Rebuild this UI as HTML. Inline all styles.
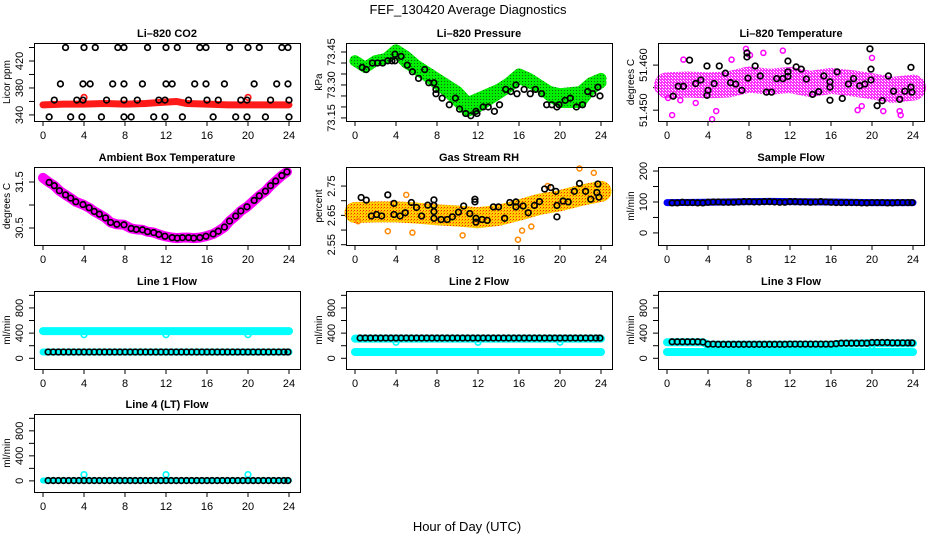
<!DOCTYPE html>
<html><head><meta charset="utf-8"><title>FEF_130420 Average Diagnostics</title>
<style>
html,body{margin:0;padding:0;background:#fff;}
svg{display:block;font-family:"Liberation Sans",Arial,sans-serif;}
</style></head>
<body>
<svg id="chart" width="936" height="540" viewBox="0 0 936 540">
<defs>
<pattern id="gdots" width="3" height="3" patternUnits="userSpaceOnUse"><rect width="3" height="3" fill="#00ee00"/><rect width="1" height="1" fill="#116611"/></pattern>
<pattern id="ydots" width="3" height="3" patternUnits="userSpaceOnUse"><rect width="3" height="3" fill="#ffd000"/><rect width="1" height="1" fill="#ff2200"/><rect x="2" y="1" width="1" height="1" fill="#ff8800"/></pattern>
<pattern id="mdots" width="3" height="3" patternUnits="userSpaceOnUse"><rect width="3" height="3" fill="#ff00ff"/><rect width="1" height="1" fill="#ffffff"/><rect x="2" y="2" width="1" height="1" fill="#ffffff"/></pattern>
</defs>
<text x="468" y="14" text-anchor="middle" font-size="13">FEF_130420  Average Diagnostics</text>
<text x="467" y="531" text-anchor="middle" font-size="13">Hour of Day (UTC)</text>
</svg>
<script>
// ---------- data ----------
const xTicks=[0,4,8,12,16,20,24];
// CO2
const co2BandHours=[0,2,4,6,8,10,11,12,13,14,16,18,20,22,24];
const co2BandValues=[355,356,356,357,356,357,358,359,360,357,356,355,355,355,355];
const co2CircleHours=[2.2,4.0,5.1,7.3,7.9,10.2,12.0,13.1,15.3,15.9,18.2,20.0,21.1,23.3,23.9, 1.7,3.9,4.6,6.8,7.9,9.7,12.0,12.6,14.8,15.9,17.7,20.6,22.8,23.9, 1.1,3.3,3.9,6.2,7.9,9.2,11.3,11.9,14.2,16.0,17.1,19.3,19.9,22.2,24.0, 0.6,2.7,3.8,5.7,7.9,8.6,10.8,11.9,13.6,16.6,18.8,19.9,21.7,24.0];
const co2CircleValues=[440,440,440,440,440,440,440,440,440,440,440,440,440,440,440, 386,386,386,386,386,386,386,386,386,386,386,386,386,386, 362,362,362,362,362,362,362,362,362,362,362,362,362,362,362, 337,337,337,337,337,337,337,337,337,337,337,337,337,337];
const co2RedHours=[4.0,20.0];
const co2RedValues=[366,366];
// Pressure
const presUpperHours=[0,1,2,3,4,5,6,8,10,11,12,14,15,16,17,18,19,20,22,23,24];
const presUpperValues=[73.41,73.38,73.41,73.42,73.46,73.43,73.39,73.33,73.27,73.22,73.24,73.28,73.31,73.35,73.33,73.30,73.27,73.26,73.27,73.31,73.33];
const presLowerHours=[0,1,2,3,4,5,7,9,11,12,13,15,16,17,18,19,20,22,23,24];
const presLowerValues=[73.41,73.38,73.41,73.42,73.45,73.40,73.34,73.27,73.18,73.20,73.23,73.29,73.33,73.31,73.29,73.25,73.22,73.22,73.28,73.31];
const presCircleHours=[0.7,1.1,1.7,2.2,2.7,3.2,3.6,3.9,3.9,4.5,5.1,5.6,6.2,6.8,7.2,7.7,7.9,7.9,8.5,9.2,9.8,10.2,10.8,11.3,11.8,11.9,12.5,13.0,13.6,14.1,14.7,15.2,15.7,15.8,16.5,17.1,17.6,18.2,18.7,19.2,19.7,19.9,20.5,21.0,21.6,22.2,22.7,23.2,23.7,23.9];
const presCircleValues=[73.38,73.37,73.40,73.40,73.40,73.41,73.41,73.44,73.41,73.43,73.39,73.36,73.33,73.37,73.31,73.31,73.28,73.26,73.24,73.21,73.24,73.19,73.17,73.16,73.18,73.17,73.20,73.20,73.18,73.21,73.28,73.27,73.30,73.26,73.28,73.26,73.28,73.26,73.21,73.21,73.20,73.21,73.23,73.24,73.20,73.21,73.27,73.26,73.29,73.25];
// Li-820 temperature
const tempBandHours=[0,2,4,6,8,10,12,14,16,18,20,22,24];
const tempBandValues=[51.4555,51.4557,51.4555,51.4557,51.4568,51.4563,51.4567,51.4558,51.4565,51.4560,51.4553,51.4545,51.4550];
const tempOutHours=[0.5,4.4,4.8,7.7,9.4,11.3,18.6,19.0,20.0,21.1,22.7,22.8,0.1,1.3,2.8,1.6,6.3,8.1];
const tempOutValues=[51.4489,51.4480,51.4498,51.4636,51.4627,51.4632,51.4500,51.4509,51.4616,51.4498,51.4498,51.4489,51.4527,51.4522,51.4516,51.4612,51.4612,51.4622];
const tempCircleHours=[0.6,1.1,1.6,2.2,2.8,3.3,3.9,3.9,4.0,4.6,5.1,5.7,6.2,6.7,7.3,7.8,7.8,7.9,8.6,9.1,9.7,10.2,10.7,11.3,11.8,11.8,11.8,12.6,13.1,13.6,14.2,14.8,15.3,15.9,15.9,15.9,16.6,17.1,17.7,18.2,18.8,19.3,19.8,19.9,19.9,20.5,21.0,21.6,22.1,22.7,23.2,23.8,23.8,23.9];
const tempCircleValues=[51.4531,51.4553,51.4553,51.4611,51.4559,51.4567,51.4598,51.4533,51.4544,51.4559,51.4598,51.4582,51.4561,51.4558,51.4544,51.4618,51.4627,51.4571,51.4598,51.4576,51.4540,51.4540,51.4570,51.4570,51.4609,51.4585,51.4575,51.4596,51.4591,51.4569,51.4535,51.4541,51.4576,51.4563,51.4522,51.4551,51.4585,51.4526,51.4558,51.4570,51.4554,51.4558,51.4636,51.4591,51.4567,51.4510,51.4521,51.4576,51.4542,51.4524,51.4542,51.4595,51.4551,51.4540];
// Ambient box temperature
const ambHours=[0.0,0.6,1.1,1.6,2.2,2.7,3.2,3.9,4.5,5.0,5.5,6.1,6.6,7.2,7.9,8.6,9.1,9.7,10.2,10.8,11.3,11.9,12.6,13.1,13.6,14.2,14.7,15.3,15.9,16.6,17.1,17.7,18.2,18.8,19.3,19.9,20.6,21.1,21.7,22.2,22.7,23.3,23.8];
const ambValues=[31.59,31.49,31.42,31.31,31.22,31.15,31.07,31.01,30.94,30.86,30.80,30.72,30.62,30.58,30.57,30.49,30.47,30.46,30.42,30.40,30.36,30.32,30.29,30.28,30.29,30.29,30.28,30.29,30.32,30.37,30.43,30.52,30.65,30.76,30.87,30.96,31.10,31.20,31.30,31.42,31.52,31.64,31.72];
// Gas stream RH
const rhBandHours=[0,2,4,6,8,10,12,14,16,18,20,22,24];
const rhBandValues=[2.660,2.662,2.662,2.658,2.652,2.648,2.642,2.650,2.668,2.688,2.700,2.718,2.732];
const rhOutHours=[3.2,5.6,10.5,15.9,16.3,17.2,21.9,23.3,0.3,5.0,18.8];
const rhOutValues=[2.596,2.591,2.582,2.567,2.598,2.612,2.810,2.795,2.630,2.720,2.750];
const rhCircleHours=[0.6,1.1,1.6,2.1,2.6,3.2,3.8,3.8,4.4,4.9,5.5,6.0,6.5,7.1,7.7,7.7,7.7,7.7,8.4,9.0,9.5,10.1,10.6,11.2,11.7,11.7,11.8,11.8,12.4,12.9,13.5,14.0,14.6,15.1,15.7,15.7,16.4,16.9,17.5,18.0,18.5,19.1,19.6,19.7,19.7,20.3,20.8,21.4,21.9,22.5,23.0,23.6,23.7,23.8];
const rhCircleValues=[2.711,2.702,2.648,2.653,2.648,2.720,2.691,2.653,2.648,2.659,2.694,2.677,2.648,2.685,2.703,2.684,2.663,2.640,2.636,2.636,2.645,2.661,2.682,2.656,2.705,2.696,2.640,2.627,2.636,2.633,2.679,2.679,2.640,2.694,2.696,2.679,2.682,2.659,2.684,2.697,2.740,2.745,2.732,2.645,2.684,2.699,2.696,2.732,2.759,2.732,2.705,2.728,2.757,2.712];
// Flow circles (shared hours)
const flowHours=[0.5,1.0,1.5,2.0,2.5,3.0,3.5,4.0,4.5,5.0,5.5,6.0,6.5,7.0,7.5,8.0,8.5,9.0,9.5,10.0,10.5,11.0,11.5,12.0,12.5,13.0,13.5,14.0,14.5,15.0,15.5,16.0,16.5,17.0,17.5,18.0,18.5,19.0,19.5,20.0,20.5,21.0,21.5,22.0,22.5,23.0,23.5,23.9];
const sampleValues=[97,97,99,98,98,97,97,99,100,100,99,99,99,100,101,101,100,100,101,101,100,99,99,101,101,100,100,99,100,101,100,99,98,98,98,98,98,97,97,98,98,98,97,97,98,98,98,98];
const sampleBandHours=[0,4,8,10,12,16,20,24];
const sampleBandValues=[98,99,101,102,101,100,98,98];
const line1Values=[100,100,100,100,100,100,100,100,100,100,100,100,100,100,100,100,100,100,100,100,100,100,100,100,100,100,100,100,100,100,100,100,100,100,100,100,100,100,100,100,100,100,100,100,100,100,100,100];
const line1HiHours=[0,24];const line1HiValues=[432,432];
const line1LoHours=[0,24];const line1LoValues=[100,100];
const line1DipHours=[4,12,20];const line1DipValues=[375,375,375];
const line2Values=[322,322,322,322,322,322,322,322,322,322,322,322,322,322,322,322,322,322,322,322,322,322,322,322,322,322,322,322,322,322,322,322,322,322,322,322,322,322,322,322,322,322,322,322,322,322,322,322];
const line2HiHours=[0,24];const line2HiValues=[312,312];
const line2LoHours=[0,24];const line2LoValues=[100,100];
const line2DipHours=[4,12,20];const line2DipValues=[255,255,255];
const line3Values=[262,262,262,262,262,262,258,225,225,222,222,222,222,222,222,222,222,222,222,222,222,222,222,225,225,225,225,225,225,225,225,225,232,240,240,240,240,240,240,250,250,250,250,245,245,245,245,245];
const line3HiHours=[0,3.5,4,16,17,20,24];const line3HiValues=[255,255,215,215,232,240,238];
const line3LoHours=[0,24];const line3LoValues=[100,100];
const line3DipHours=[4,12,20];const line3DipValues=[190,190,195];
const line4Values=[5,5,5,5,5,5,5,5,5,5,5,5,5,5,5,5,5,5,5,5,5,5,5,5,5,5,5,5,5,5,5,5,5,5,5,5,5,5,5,5,5,5,5,5,5,5,5,5];
const line4BandHours=[0,24];const line4BandValues=[5,5];
const line4DipHours=[4,12,20];const line4DipValues=[100,100,100];

// ---------- drawing ----------
const NS='http://www.w3.org/2000/svg';
const svg=document.getElementById('chart');
function mk(tag,attrs,parent){const e=document.createElementNS(NS,tag);for(const k in attrs)e.setAttribute(k,attrs[k]);(parent||svg).appendChild(e);return e;}
const COLS=[34,346,658], ROWS=[43,167,291,414], W=266, H=78;

function panel(col,row,key,title,ylab,ymin,ymax,yt,ylabels){
  const L=COLS[col],T=ROWS[row],B=T+H,x0=L+9;
  const g=mk('g',{});
  
  
  const sx=h=>x0+h*10.25;
  const sy=v=>T+(ymax-v)/(ymax-ymin)*H;
  const t=mk('text',{x:L+W/2,y:T-6,'text-anchor':'middle','font-size':11,'font-weight':'bold'},g);t.textContent=title;
  
  
  const yl=mk('text',{transform:`translate(${L-24},${T+H/2}) rotate(-90)`,'text-anchor':'middle','font-size':10},g);yl.textContent=ylab;
  
  
  const xa=mk('g',{},g);
  
  
  xTicks.forEach(h=>{
    mk('line',{x1:sx(h),x2:sx(h),y1:B,y2:B+5,stroke:'#000'},xa);
    const tx=mk('text',{x:sx(h),y:B+18,'text-anchor':'middle','font-size':11},xa);tx.textContent=h;
  });
  const ya=mk('g',{},g);
  
  
  yt.forEach(v=>{
    mk('line',{x1:L-5,x2:L,y1:sy(v),y2:sy(v),stroke:'#000'},ya);
  });
  ylabels.forEach(lab=>{
    const tx=mk('text',{transform:`translate(${L-11},${sy(parseFloat(lab))}) rotate(-90)`,'text-anchor':'middle','font-size':11},ya);tx.textContent=lab;
  });
  const plot=mk('g',{},g);
  
  
  const frame=()=>{const r=mk('rect',{x:L+0.5,y:T+0.5,width:W,height:H,fill:'none',stroke:'#000'},g);
    
    };
  return {sx,sy,plot,frame,key};
}
function band(p,hours,vals,color,width,name,op){
  const pts=hours.map((h,i)=>p.sx(h)+','+p.sy(vals[i])).join(' ');
  const e=mk('polyline',{points:pts,fill:'none',stroke:color,'stroke-width':width,'stroke-linejoin':'round','stroke-linecap':'round','stroke-opacity':op||1},p.plot);
  
  
}
function circles(p,hours,vals,color,name,r,sw){
  const g=mk('g',{},p.plot);
  
  
  hours.forEach((h,i)=>{
    const c=mk('circle',{cx:p.sx(h),cy:p.sy(vals[i]),r:r||2.8,fill:'none',stroke:color,'stroke-width':sw||1.7},g);
    
    
  });
}
const ft=[0,200,400,600,800,1000], fl=['0','400','800'];

// CO2
let p=panel(0,0,'co2','Li\u2013820 CO2','Licor ppm',331,446.7,[340,360,380,400,420,440],['340','380','420']);
band(p,co2BandHours,co2BandValues,'#ff1a1a',7,'co2-band');
circles(p,co2RedHours,co2RedValues,'#ff1a1a','co2-red-points');
circles(p,co2CircleHours,co2CircleValues,'#000','co2-average-points');
p.frame();
// Pressure
p=panel(1,0,'pressure','Li\u2013820 Pressure','kPa',73.136,73.491,[73.15,73.2,73.25,73.3,73.35,73.4,73.45],['73.15','73.30','73.45']);
band(p,presUpperHours,presUpperValues,'url(#gdots)',11,'pressure-band-upper');
band(p,presLowerHours,presLowerValues,'url(#gdots)',11,'pressure-band-lower');
circles(p,presCircleHours,presCircleValues,'#000','pressure-average-points');
p.frame();
// Temperature
p=panel(2,0,'li820-temp','Li\u2013820 Temperature','degrees C',51.4476,51.4649,[51.450,51.455,51.460],['51.450','51.460']);
band(p,tempBandHours,tempBandValues,'url(#mdots)',26,'li820-temp-band',0.8);
circles(p,tempOutHours,tempOutValues,'#ff00ff','li820-temp-outliers',2.5,1.5);
circles(p,tempCircleHours,tempCircleValues,'#000','li820-temp-average-points');
p.frame();
// Ambient
p=panel(0,1,'ambient','Ambient Box Temperature','degrees C',30.13,31.826,[30.5,31.0,31.5],['30.5','31.5']);
band(p,ambHours,ambValues,'#ff00ff',10,'ambient-band');
circles(p,ambHours.slice(1),ambValues.slice(1),'#000','ambient-average-points');
p.frame();
// RH
p=panel(1,1,'rh','Gas Stream RH','percent',2.549,2.815,[2.55,2.6,2.65,2.7,2.75],['2.55','2.65','2.75']);
band(p,rhBandHours,rhBandValues,'url(#ydots)',21,'rh-band');
circles(p,rhOutHours,rhOutValues,'#ff8800','rh-outliers',2.5,1.5);
circles(p,rhCircleHours,rhCircleValues,'#000','rh-average-points');
p.frame();
// Sample flow
p=panel(2,1,'sample-flow','Sample Flow','ml/min',-39,213,[0,50,100,150,200],['0','100','200']);
band(p,sampleBandHours,sampleBandValues,'#0000ff',7,'sample-flow-band');
circles(p,flowHours,sampleValues,'#000','sample-flow-average-points');
p.frame();
// Line 1
p=panel(0,2,'line1','Line 1 Flow','ml/min',-170,1069,ft,fl);
band(p,line1HiHours,line1HiValues,'#00ffff',8,'line1-band-high');
band(p,line1LoHours,line1LoValues,'#00ffff',7,'line1-band-low');
circles(p,line1DipHours,line1DipValues,'#00ffff','line1-dip-points');
circles(p,flowHours,line1Values,'#000','line1-average-points');
p.frame();
// Line 2
p=panel(1,2,'line2','Line 2 Flow','ml/min',-170,1069,ft,fl);
band(p,line2HiHours,line2HiValues,'#00ffff',8,'line2-band-high');
band(p,line2LoHours,line2LoValues,'#00ffff',8,'line2-band-low');
circles(p,line2DipHours,line2DipValues,'#00ffff','line2-dip-points');
circles(p,flowHours,line2Values,'#000','line2-average-points');
p.frame();
// Line 3
p=panel(2,2,'line3','Line 3 Flow','ml/min',-170,1069,ft,fl);
band(p,line3HiHours,line3HiValues,'#00ffff',8,'line3-band-high');
band(p,line3LoHours,line3LoValues,'#00ffff',8,'line3-band-low');
circles(p,line3DipHours,line3DipValues,'#00ffff','line3-dip-points');
circles(p,flowHours,line3Values,'#000','line3-average-points');
p.frame();
// Line 4
p=panel(0,3,'line4','Line 4 (LT) Flow','ml/min',-178,1069,ft,fl);
band(p,line4BandHours,line4BandValues,'#00ffff',6,'line4-band');
circles(p,line4DipHours,line4DipValues,'#00ffff','line4-dip-points');
circles(p,flowHours,line4Values,'#000','line4-average-points');
p.frame();
</script>
</body></html>
